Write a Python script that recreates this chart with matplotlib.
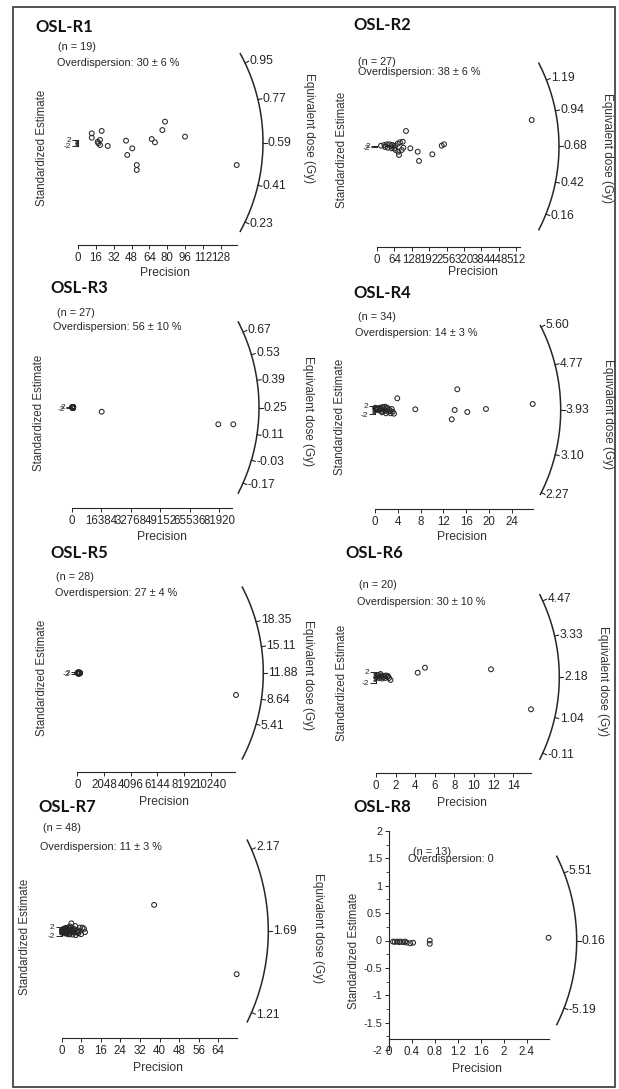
import numpy as np
import matplotlib.pyplot as plt
from matplotlib.patches import Rectangle
from matplotlib.ticker import FormatStrFormatter

plt.rcParams['font.family'] = ['Liberation Sans', 'DejaVu Sans']
plt.rcParams['axes.unicode_minus'] = False

W, H = 619, 1089
INK = '#262626'

titles = ['OSL-R1', 'OSL-R2', 'OSL-R3', 'OSL-R4', 'OSL-R5', 'OSL-R6', 'OSL-R7', 'OSL-R8']
n_labels = ['(n = 19)', '(n = 27)', '(n = 27)', '(n = 34)', '(n = 28)', '(n = 20)', '(n = 48)', '(n = 13)']
od_labels = ['Overdispersion: 30 \u00b1 6 %', 'Overdispersion: 38 \u00b1 6 %',
             'Overdispersion: 56 \u00b1 10 %', 'Overdispersion: 14 \u00b1 3 %',
             'Overdispersion: 27 \u00b1 4 %', 'Overdispersion: 30 \u00b1 10 %',
             'Overdispersion: 11 \u00b1 3 %', 'Overdispersion: 0']

# ---- data: precision (x) and standardized estimate (y)
r1_prec = [12.3, 12.3, 21.2, 17.6, 19.7, 19.7, 26.6, 18.2, 43.0, 48.6, 44.1, 52.6, 52.6,
           66.0, 68.9, 75.5, 77.9, 95.8, 142.1]
r1_z = [6.1, 3.2, 7.7, 0.5, 1.7, -1.7, -2.3, -0.5, 1.2, -3.9, -8.3, -15.0, -18.3,
        2.3, 0.1, 8.3, 13.9, 3.9, -15.0]
r1_dose = [0.95, 0.77, 0.59, 0.41, 0.23]
r1_xticks = [0, 16, 32, 48, 64, 80, 96, 112, 128]
r1_xmax = 142

r2_prec = [569.8, 106.8, 238.3, 246.8, 203.7, 154.7, 149.9, 122.7, 94.7, 14.7, 27.0, 36.8,
           46.8, 56.4, 66.3, 76.2, 84.7, 39.4, 54.1, 68.9, 78.5, 91.0, 81.0, 63.7, 96.9,
           51.6, 29.5]
r2_z = [88.3, 51.7, 2.7, 7.3, -26.0, -48.3, -17.3, -6.0, 16.0, 2.7, 5.0, 7.3, 7.3, 5.0,
        2.7, 9.3, 14.0, -4.0, -6.0, -11.7, -17.3, -11.7, -28.3, -6.0, -4.0, 0.7, -1.7]
r2_dose = [1.19, 0.94, 0.68, 0.42, 0.16]
r2_xticks = [0, 64, 128, 192, 256, 320, 384, 448, 512]
r2_xmax = 528

r3_prec = [16517, 81364, 89706, 150, 220, 300, 380, 460, 540, 620, 700, 260, 340, 420,
           500, 580, 660, 180, 240, 320, 400, 480, 560, 640, 330, 450, 600]
r3_z = [-14, -56, -56, 1.5, -1, 2, -2, 0.5, -1.5, 1, 2, -0.5, 0, 1.5, -2, 1, -1, 0, 2,
        -1.5, 0.5, -0.5, 1.5, 0, -1, 1, 0.5]
r3_dose = [0.67, 0.53, 0.39, 0.25, 0.11, -0.03, -0.17]
r3_xticks = [0, 16384, 32768, 49152, 65536, 81920]
r3_xmax = 89200

r4_prec = [14.44, 3.91, 27.67, 7.07, 13.98, 16.19, 19.47, 13.46, 0.1, 0.18, 0.58, 1.0,
           1.46, 1.75, 2.05, 2.51, 2.93, 3.33, 1.93, 1.18, 0.3, 2.33, 2.75, 1.58, 0.75,
           0.05, 1.35, 2.16, 2.63, 3.11, 0.4, 0.88, 1.81, 1.23]
r4_z = [9.63, 5.44, 2.79, 0.33, 0.0, -0.93, 0.47, -4.33, 0.79, 0.47, 0.79, 0.47, 0.79,
        1.53, 0.47, 0.14, 0.47, -1.72, -1.53, -0.47, 0.0, -0.79, -1.53, 0.0, -0.14, 1.07,
        1.40, 1.07, -0.47, -0.79, 0.47, 1.07, -0.47, -1.07]
r4_dose = [5.60, 4.77, 3.93, 3.10, 2.27]
r4_xticks = [0, 4, 8, 12, 16, 20, 24]
r4_xmax = 27.7

r5_prec = [12189, 20, 35, 50, 65, 80, 95, 110, 125, 140, 155, 170, 185, 200, 215, 60,
           45, 60, 75, 90, 105, 120, 135, 150, 165, 100, 70, 130]
r5_z = [-73.3, 1, -0.5, 1.5, -1.5, 0.5, -1, 2, 0, -2, 1, -0.5, 1.5, -1, 0.5, 0, -1.5, 1,
        -1, 2, -0.5, 1.5, -2, 0.5, 0, -1.5, 1, -0.5]
r5_dose = [18.35, 15.11, 11.88, 8.64, 5.41]
r5_xticks = [0, 2048, 4096, 6144, 8192, 10240]
r5_xmax = 12110

r6_prec = [4.99, 4.25, 11.72, 15.8, 0.1, 0.25, 0.41, 0.56, 0.71, 0.87, 1.02, 1.17, 1.33,
           1.48, 0.31, 0.61, 0.92, 1.22, 0.05, 0.46]
r6_z = [3.38, 1.56, 2.8, -11.75, 0.36, 0.73, 0.18, 0.55, 0.0, 0.36, 0.55, 0.0, -0.36,
        -1.09, -0.36, -0.55, -0.36, 0.36, -0.18, 1.09]
r6_dose = [4.47, 3.33, 2.18, 1.04, -0.11]
r6_xticks = [0, 2, 4, 6, 8, 10, 12, 14]
r6_xmax = 15.8

r7_prec = [37.8, 71.5, 0.2, 0.4, 0.6, 0.8, 1.0, 1.2, 1.4, 1.6, 1.8, 2.0, 2.2, 2.4, 2.6,
           2.8, 3.0, 3.2, 3.4, 3.6, 3.8, 4.0, 4.2, 4.5, 4.8, 5.1, 5.4, 5.8, 6.2, 6.6,
           7.0, 7.5, 8.0, 8.6, 9.2, 9.6, 0.3, 0.7, 1.1, 1.5, 1.9, 2.3, 2.7, 3.1, 3.5,
           4.4, 5.6, 6.9]
r7_z = [11.6, -19.2, 0.4, -0.3, 0.8, -0.6, 0.2, 1.0, -0.9, 0.5, -0.2, 1.2, -1.1, 0.3,
        0.9, -0.5, 1.4, -1.3, 0.1, 2.0, -0.8, 3.4, 0.6, -1.6, 1.1, -0.4, 0.7, -1.8,
        -0.6, 0.3, -0.3, 1.5, -1.4, 1.5, 0.9, -0.5, -0.8, 0.6, -0.2, 1.3, -1.2, 0.2,
        1.6, -1.5, 0.4, -0.1, 2.2, -1.0]
r7_dose = [2.17, 1.69, 1.21]
r7_xticks = [0, 8, 16, 24, 32, 40, 48, 56, 64]
r7_xmax = 71.8

r8_prec = [2.78, 0.71, 0.71, 0.07, 0.14, 0.2, 0.25, 0.31, 0.37, 0.28, 0.18, 0.42, 0.10]
r8_z = [0.05, 0.0, -0.06, -0.02, -0.02, -0.02, -0.03, -0.04, -0.05, -0.02, -0.03,
        -0.04, -0.025]
r8_dose = [5.51, 0.16, -5.19]
r8_xticks = [0, 0.4, 0.8, 1.2, 1.6, 2.0, 2.4]
r8_xmax = 2.78

# ---- layout in pixels (origin of each radial plot, scales, arc geometry, labels)
layouts = [
    dict(x0=78, y0=142.5, sx=1.117, sz=1.5, R=185, dm=0.238, ext=2.3, xy=245,
         title=(35, 27), n=(58, 47), od=(57, 63), ylab=(42, 148), eq=(309, 128), prec=(165, 273)),
    dict(x0=377, y0=146.5, sx=0.2715, sz=0.3, R=182, dm=0.198, ext=2.6, xy=247,
         title=(353, 25), n=(358, 62), od=(358, 72), ylab=(342, 150), eq=(607, 148), prec=(473, 272)),
    dict(x0=72, y0=407.5, sx=0.0017981, sz=0.3, R=187, dm=0.147, ext=3.5, xy=508.3,
         title=(50, 288), n=(57, 313), od=(53, 327), ylab=(39, 413), eq=(308, 411), prec=(162, 537)),
    dict(x0=375, y0=410, sx=5.70, sz=2.15, R=185.7, dm=0.249, ext=2.05, xy=509.3,
         title=(353, 293), n=(358, 317), od=(355, 333), ylab=(340, 417), eq=(608, 414), prec=(462, 537)),
    dict(x0=77.3, y0=673, sx=0.01302, sz=0.3, R=186, dm=0.143, ext=3.64, xy=772.3,
         title=(50, 553), n=(56, 577), od=(55, 593), ylab=(42, 678), eq=(308, 675), prec=(164, 802)),
    dict(x0=376, y0=677, sx=9.81, sz=2.75, R=183.3, dm=0.228, ext=2.2, xy=773.3,
         title=(345, 553), n=(359, 585), od=(357, 602), ylab=(342, 683), eq=(603, 681), prec=(462, 803)),
    dict(x0=61.5, y0=931, sx=2.45, sz=2.25, R=206.8, dm=0.429, ext=1.14, xy=1038.3,
         title=(38, 807), n=(43, 828), od=(40, 847), ylab=(25, 937), eq=(318, 928), prec=(158, 1068)),
    dict(x0=389, y0=940.5, sx=57.4, sz=54.8, R=187.7, dm=0.386, ext=1.3, xy=1039.3,
         title=(353, 807), n=(413, 852), od=(408, 859.5), ylab=(354, 951), eq=None, prec=(477, 1069)),
]

panels = [
    (r1_prec, r1_z, r1_dose, r1_xticks, r1_xmax),
    (r2_prec, r2_z, r2_dose, r2_xticks, r2_xmax),
    (r3_prec, r3_z, r3_dose, r3_xticks, r3_xmax),
    (r4_prec, r4_z, r4_dose, r4_xticks, r4_xmax),
    (r5_prec, r5_z, r5_dose, r5_xticks, r5_xmax),
    (r6_prec, r6_z, r6_dose, r6_xticks, r6_xmax),
    (r7_prec, r7_z, r7_dose, r7_xticks, r7_xmax),
    (r8_prec, r8_z, r8_dose, r8_xticks, r8_xmax),
]

fig = plt.figure(figsize=(W / 100, H / 100), dpi=100)
bg = fig.add_axes([0, 0, 1, 1])
bg.set_xlim(0, W)
bg.set_ylim(H, 0)
bg.axis('off')
bg.add_patch(Rectangle((13, 7), 602, 1080, fill=False, lw=1.3, ec='#444444'))


def radial_panel(i, prec, z, dose, xticks, xmax, lay):
    x0, y0, sx, sz = lay['x0'], lay['y0'], lay['sx'], lay['sz']
    left, right, top, bottom = x0 - 45, x0 + 260, y0 - 120, lay['xy'] + 25
    ax = fig.add_axes([left / W, 1 - bottom / H, (right - left) / W, (bottom - top) / H])
    ax.set_xlim((left - x0) / sx, (right - x0) / sx)
    ax.set_ylim((y0 - bottom) / sz, (y0 - top) / sz)
    ax.patch.set_alpha(0)
    for s in ['top', 'right']:
        ax.spines[s].set_visible(False)
    ax.spines['left'].set_position(('data', 0))
    ax.spines['left'].set_bounds(-2, 2)
    ax.spines['bottom'].set_position(('data', (y0 - lay['xy']) / sz))
    ax.spines['bottom'].set_bounds(0, xmax)
    for s in ['left', 'bottom']:
        ax.spines[s].set_color(INK)
        ax.spines[s].set_linewidth(0.8)

    ax.set_xticks(xticks)
    ax.xaxis.set_major_formatter(FormatStrFormatter('%g'))
    ax.tick_params(axis='x', direction='out', length=3, width=0.7, colors=INK,
                   labelsize=8.3, pad=2)
    if i == 7:
        ax.set_yticks(np.arange(-2, 2.01, 0.5))
        ax.set_yticks(np.arange(-1.75, 2, 0.5), minor=True)
        ax.yaxis.set_major_formatter(FormatStrFormatter('%g'))
        ax.tick_params(axis='y', which='major', direction='out', length=3, width=0.7,
                       colors=INK, labelsize=7.8, pad=2)
        ax.tick_params(axis='y', which='minor', direction='out', length=2, width=0.6,
                       colors=INK)
    else:
        ax.set_yticks([-2, 2])
        ax.set_yticks([-1.5, -1, -0.5, 0, 0.5, 1, 1.5], minor=True)
        ax.yaxis.set_major_formatter(FormatStrFormatter('%g'))
        ax.tick_params(axis='y', which='major', direction='out', length=4, width=0.7,
                       colors=INK, labelsize=6, pad=1)
        ax.tick_params(axis='y', which='minor', direction='out', length=2.5, width=0.6,
                       colors=INK)

    ax.scatter(prec, z, s=12, facecolors='none', edgecolors=INK, linewidths=0.75,
               clip_on=False, zorder=3)

    # arc scale (pixels converted back into data units)
    R, dm = lay['R'], lay['dm']
    th = np.linspace(-np.arctan(lay['ext'] * dm), np.arctan(lay['ext'] * dm), 200)
    ax.plot(R * np.cos(th) / sx, R * np.sin(th) / sz, color=INK, lw=1.1, clip_on=False)
    dc = dose[len(dose) // 2]
    step = (dose[0] - dose[-1]) / (len(dose) - 1)
    for d in dose:
        t = np.arctan((d - dc) / step * dm)
        c, s = np.cos(t), np.sin(t)
        ax.plot([R * c / sx, (R + 4) * c / sx], [R * s / sz, (R + 4) * s / sz],
                color=INK, lw=0.8, clip_on=False)
        ax.text((R + 5) * c / sx, (R + 5) * s / sz, f'{d:.2f}', ha='left', va='center',
                fontsize=8.7, color=INK)

    # panel texts
    bg.text(*lay['title'], titles[i], fontsize=12, fontweight='bold', family='Lato',
            ha='left', va='center', color='#111111')
    bg.text(*lay['n'], n_labels[i], fontsize=7.8, ha='left', va='center', color=INK)
    bg.text(*lay['od'], od_labels[i], fontsize=7.8, ha='left', va='center', color=INK)
    bg.text(*lay['ylab'], 'Standardized Estimate', fontsize=8.3, rotation=90,
            ha='center', va='center', color='#333333')
    if lay['eq'] is not None:
        bg.text(*lay['eq'], 'Equivalent dose (Gy)', fontsize=8.5, rotation=270,
                ha='center', va='center', color='#333333')
    bg.text(*lay['prec'], 'Precision', fontsize=8.7, ha='center', va='center',
            color='#333333')


for i, (p, zz, d, xt, xm) in enumerate(panels):
    radial_panel(i, p, zz, d, xt, xm, layouts[i])

fig.savefig('out.png', dpi=100)
